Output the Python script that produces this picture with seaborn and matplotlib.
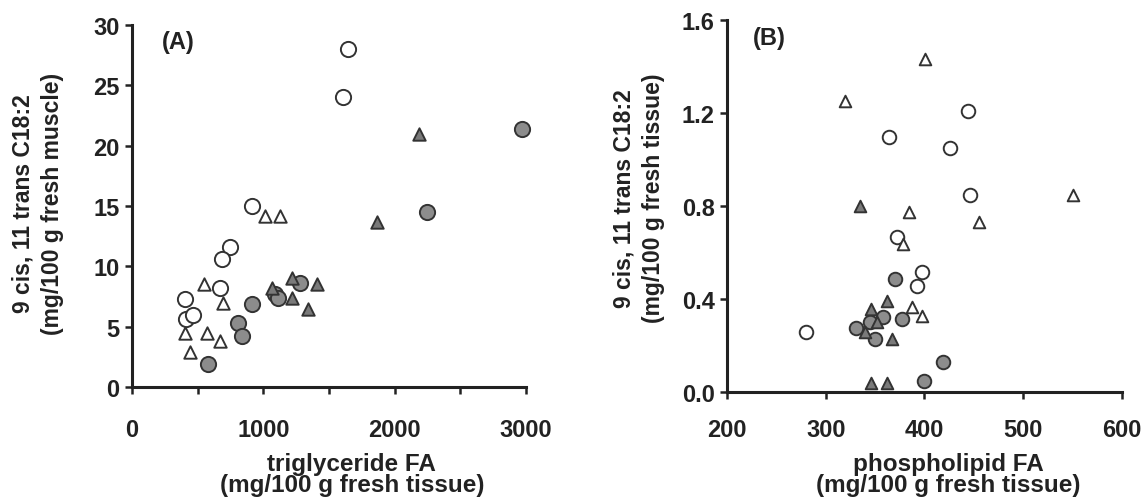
import matplotlib
matplotlib.use("Agg")
import matplotlib.pyplot as plt
import seaborn as sns
import pandas as pd
from matplotlib.ticker import MultipleLocator, FixedLocator, FormatStrFormatter

sns.set_style("white")
plt.rcParams['font.family'] = ['Liberation Sans', 'DejaVu Sans']

# ---------------- Panel A data (triglyceride FA vs 9c,11t C18:2) ----------------
a_open_circle_x = [1645, 1607, 911, 750, 683, 668, 404, 410, 462]
a_open_circle_y = [28.0, 24.0, 15.0, 11.6, 10.6, 8.2, 7.3, 5.6, 6.0]

a_open_tri_x = [1013, 1127, 548, 695, 404, 572, 670, 442]
a_open_tri_y = [14.2, 14.2, 8.5, 7.0, 4.5, 4.5, 3.8, 2.9]

a_fill_circle_x = [581, 810, 840, 911, 1089, 1112, 1280, 2245, 2970]
a_fill_circle_y = [1.9, 5.3, 4.2, 6.9, 7.7, 7.4, 8.6, 14.5, 21.4]

a_fill_tri_x = [1064, 1216, 1216, 1406, 1343, 1866, 2186]
a_fill_tri_y = [8.2, 9.0, 7.4, 8.5, 6.5, 13.7, 21.0]

# ---------------- Panel B data (phospholipid FA vs 9c,11t C18:2) ----------------
b_open_circle_x = [444, 364, 426, 446, 372, 397, 392, 280]
b_open_circle_y = [1.21, 1.095, 1.048, 0.847, 0.665, 0.515, 0.457, 0.258]

b_open_tri_x = [401, 319, 551, 384, 455, 378, 387, 397]
b_open_tri_y = [1.432, 1.253, 0.847, 0.773, 0.73, 0.637, 0.364, 0.328]

b_fill_circle_x = [370, 358, 377, 331, 350, 345, 419, 400]
b_fill_circle_y = [0.486, 0.321, 0.314, 0.275, 0.228, 0.30, 0.128, 0.049]

b_fill_tri_x = [335, 362, 346, 367, 352, 340, 346, 362]
b_fill_tri_y = [0.80, 0.393, 0.357, 0.228, 0.30, 0.26, 0.04, 0.04]

groups = ["open circle", "open triangle", "filled circle", "filled triangle"]
palette = {"open circle": "white", "open triangle": "white",
           "filled circle": "#8c8c8c", "filled triangle": "#7a7a7a"}
markers = {"open circle": "o", "open triangle": "^",
           "filled circle": "o", "filled triangle": "^"}


def make_df(series):
    rows = []
    for g, (xs, ys) in zip(groups, series):
        for x, y in zip(xs, ys):
            rows.append({"x": x, "y": y, "group": g})
    return pd.DataFrame(rows)


df_a = make_df([(a_open_circle_x, a_open_circle_y), (a_open_tri_x, a_open_tri_y),
                (a_fill_circle_x, a_fill_circle_y), (a_fill_tri_x, a_fill_tri_y)])
df_b = make_df([(b_open_circle_x, b_open_circle_y), (b_open_tri_x, b_open_tri_y),
                (b_fill_circle_x, b_fill_circle_y), (b_fill_tri_x, b_fill_tri_y)])

fig = plt.figure(figsize=(11.47, 5.02), dpi=100)
ax1 = fig.add_axes([0.115, 0.227, 0.3436, 0.721])
ax2 = fig.add_axes([0.634, 0.217, 0.344, 0.741])

edge = "#333333"
for ax, df, sizes in [(ax1, df_a, (120, 80)), (ax2, df_b, (95, 70))]:
    for g in groups:
        sub = df[df.group == g]
        s = sizes[0] if markers[g] == "o" else sizes[1]
        sns.scatterplot(data=sub, x="x", y="y", ax=ax, color=palette[g],
                        marker=markers[g], s=s, edgecolor=edge, linewidth=1.4,
                        legend=False, zorder=3, clip_on=False)

txt_color = "#222222"
XLBL = 17.5
YLBL = 16.5
TCK = 17

# Panel A axes
ax1.set_xlim(0, 3000)
ax1.set_ylim(0, 30)
ax1.xaxis.set_major_locator(FixedLocator([0, 1000, 2000, 3000]))
ax1.xaxis.set_minor_locator(MultipleLocator(500))
ax1.yaxis.set_major_locator(MultipleLocator(5))
ax1.set_xlabel("triglyceride FA\n(mg/100 g fresh tissue)", fontsize=XLBL,
               fontweight="bold", color=txt_color, linespacing=0.92, va="center")
ax1.xaxis.set_label_coords(0.558, -0.240)
ax1.set_ylabel("9 cis, 11 trans C18:2\n(mg/100 g fresh muscle)", fontsize=YLBL,
               fontweight="bold", color=txt_color, linespacing=1.35, va="center")
ax1.yaxis.set_label_coords(-0.238, 0.51)
ax1.text(0.117, 0.956, "(A)", transform=ax1.transAxes, ha="center", va="center",
         fontsize=17, fontweight="bold", color=txt_color)

# Panel B axes
ax2.set_xlim(200, 600)
ax2.set_ylim(0, 1.6)
ax2.xaxis.set_major_locator(MultipleLocator(100))
ax2.yaxis.set_major_locator(MultipleLocator(0.4))
ax2.yaxis.set_major_formatter(FormatStrFormatter("%.1f"))
ax2.set_xlabel("phospholipid FA\n(mg/100 g fresh tissue)", fontsize=XLBL,
               fontweight="bold", color=txt_color, linespacing=0.92, va="center")
ax2.xaxis.set_label_coords(0.56, -0.220)
ax2.set_ylabel("9 cis, 11 trans C18:2\n(mg/100 g fresh tissue)", fontsize=YLBL,
               fontweight="bold", color=txt_color, linespacing=1.35, va="center")
ax2.yaxis.set_label_coords(-0.225, 0.524)
ax2.text(0.106, 0.954, "(B)", transform=ax2.transAxes, ha="center", va="center",
         fontsize=17, fontweight="bold", color=txt_color)

for ax in (ax1, ax2):
    sns.despine(ax=ax)
    for sp in ("left", "bottom"):
        ax.spines[sp].set_linewidth(2.2)
        ax.spines[sp].set_color(txt_color)
    ax.tick_params(axis="both", which="both", direction="out", length=5, width=1.8,
                   color=txt_color, labelsize=TCK, pad=4, left=True, bottom=True)
    for lbl in ax.get_xticklabels() + ax.get_yticklabels():
        lbl.set_fontweight("bold")
        lbl.set_color(txt_color)
    ax.set_facecolor("white")

ax1.tick_params(axis="x", which="major", pad=17)
ax2.tick_params(axis="x", which="major", pad=14)

fig.savefig("out.png", dpi=100, facecolor="white")
